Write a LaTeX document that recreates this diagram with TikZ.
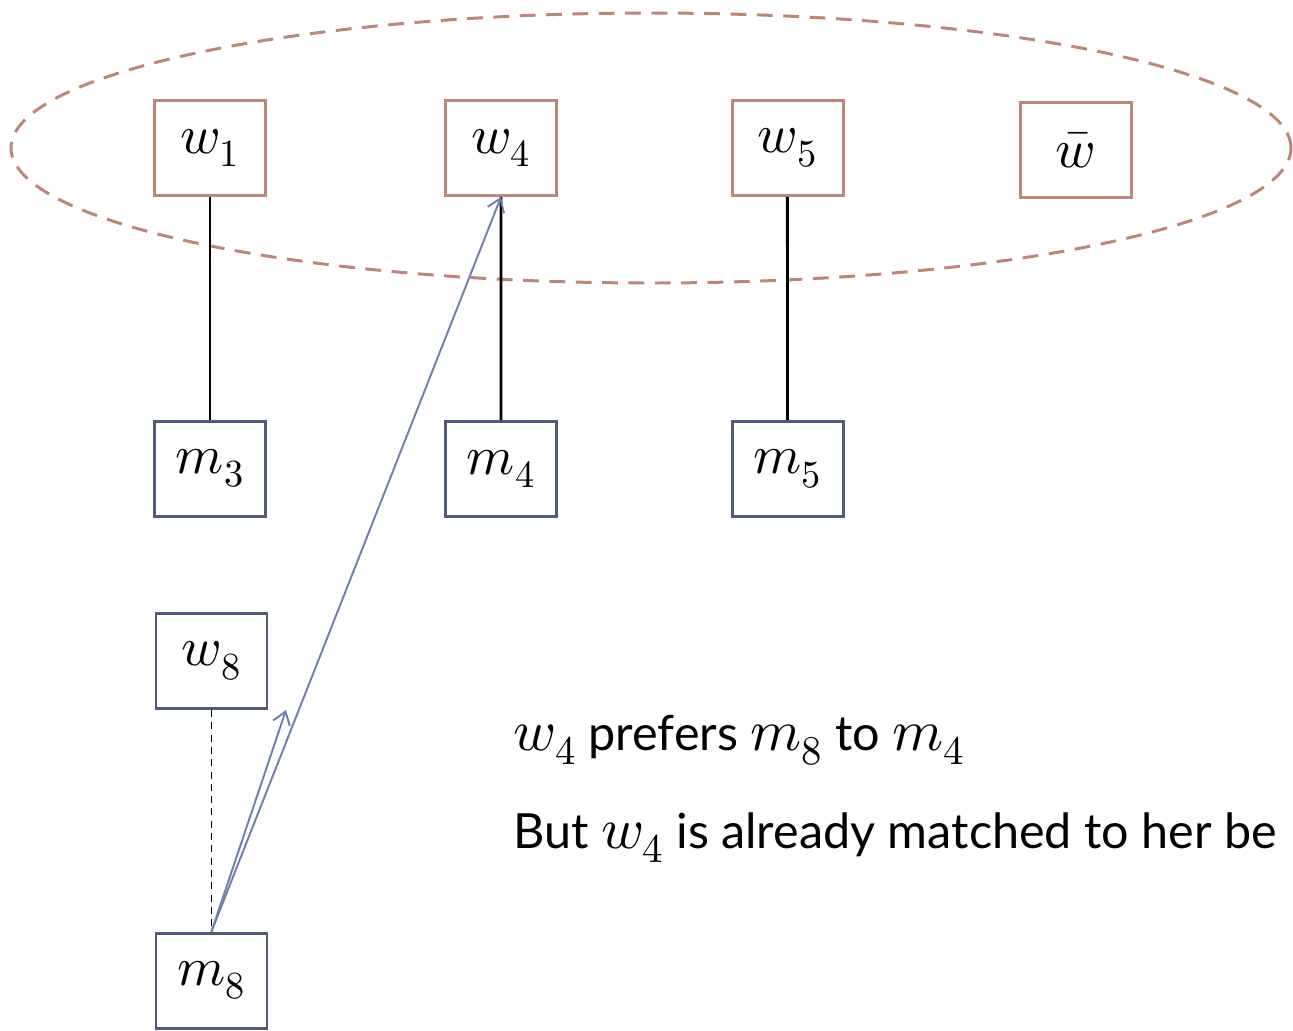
\documentclass[tikz,border=0pt]{standalone}
\usepackage{fontspec}
\usepackage{unicode-math}
\setmainfont{Lato}
\setmathfont{Latin Modern Math}[Scale=1.2]
\usetikzlibrary{arrows.meta}
\definecolor{womanbrown}{RGB}{187,135,118}
\definecolor{manblue}{RGB}{82,90,122}
\definecolor{propblue}{RGB}{112,126,172}
\begin{document}
\begin{tikzpicture}[scale=0.2]
\tikzstyle{woman}=[draw=womanbrown, line width=1.7pt, minimum width=2.22cm, minimum height=1.9cm, inner sep=0pt, font=\fontsize{26}{30}\selectfont]
\tikzstyle{man}=[woman, draw=manblue]
\tikzstyle{pair}=[black, line width=1.7pt]
\tikzstyle{propose}=[propblue, line width=1.1pt, -{Straight Barb[length=7pt,width=10pt]}]
\tikzstyle{remark}=[anchor=base west, inner sep=0pt, font=\fontsize{27.6}{32}\selectfont]
\useasboundingbox (0,0) rectangle (129.3,-103);
\draw [womanbrown, line width=1.7pt, dash pattern=on 9pt off 6pt] (65.1,-14.8) ellipse (64 and 13.5);
\node [woman] (w1) at (21,-14.8) {$w_1$};
\node [woman] (w4) at (50.1,-14.8) {$w_4$};
\node [woman] (w5) at (78.75,-14.8) {$w_5$};
\node [woman] (wbar) at (107.55,-15) {$\bar{w}$};
\node [man] (m3) at (21,-46.85) {$m_3$};
\node [man] (m4) at (50.1,-46.9) {$m_4$};
\node [man] (m5) at (78.75,-46.9) {$m_5$};
\node [man] (w8) at (21.15,-66.1) {$w_8$};
\node [man] (m8) at (21.15,-98.05) {$m_8$};
\draw [pair] (w1) -- (m3);
\draw [pair] (w4) -- (m4);
\draw [pair] (w5) -- (m5);
\draw [black, line width=0.8pt, dash pattern=on 4pt off 3pt] (w8) -- (m8);
\coordinate (tip) at (28.6,-71);
\draw [propose] (m8.north) -- (w4.south);
\draw [propose] (m8.north) -- (tip);
\node [remark] (pref) at (51.3,-75) {$w_4$ prefers $m_8$ to $m_4$};
\node [remark] (but) at (51.3,-84.8) {But $w_4$ is already matched to her be};
\end{tikzpicture}
\end{document}
